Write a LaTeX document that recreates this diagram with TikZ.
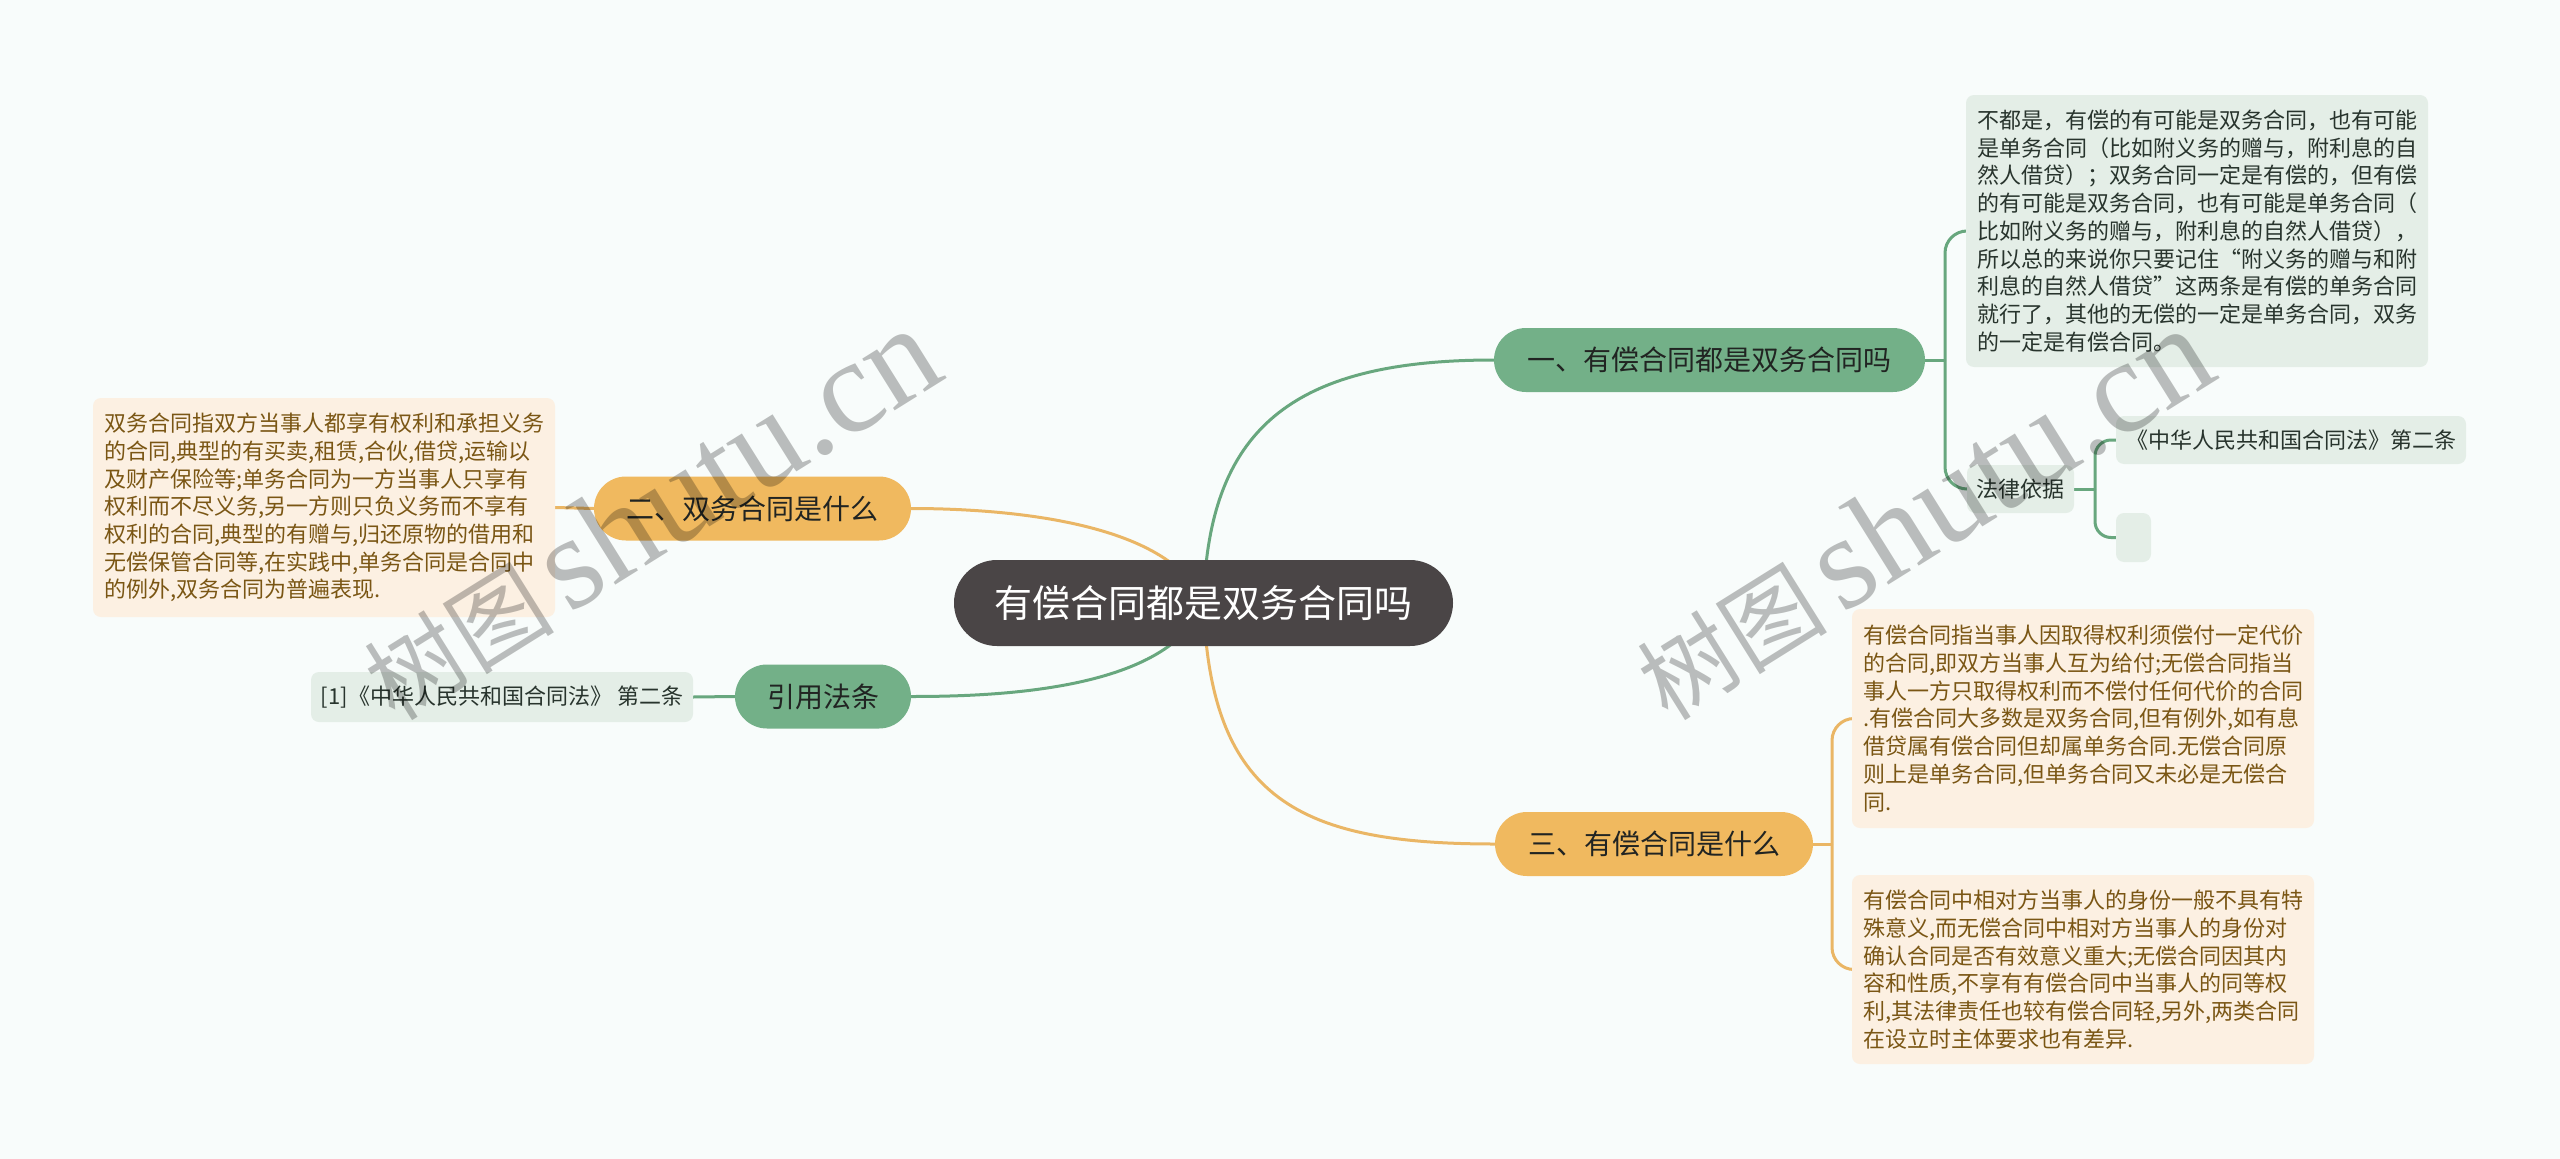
\documentclass[tikz,border=0pt]{standalone}
\usepackage{fontspec}
\setmainfont{Noto Sans CJK SC}
\newfontfamily\wmlatin{Liberation Serif}
\definecolor{bgcol}{RGB}{248,252,251}
\definecolor{ngreen}{RGB}{115,176,136}
\definecolor{cgreen}{RGB}{104,167,126}
\definecolor{norange}{RGB}{240,185,95}
\definecolor{corange}{RGB}{234,182,101}
\definecolor{lgreen}{RGB}{228,238,231}
\definecolor{lpeach}{RGB}{252,240,226}
\definecolor{ptext}{RGB}{122,86,20}
\definecolor{gtext}{RGB}{40,52,45}
\definecolor{ntext}{RGB}{33,36,34}
\definecolor{central}{RGB}{74,69,70}
\pgfdeclarelayer{back}
\pgfdeclarelayer{lines}
\pgfsetlayers{back,lines,main}
\begin{document}
\begin{tikzpicture}[x=1pt,y=-1pt,
  pill/.style={rounded corners=32pt, minimum height=64pt, inner sep=0pt, text=ntext, font=\fontsize{28}{34}\selectfont},
  gpill/.style={pill, fill=ngreen},
  opill/.style={pill, fill=norange},
  tbox/.style={rounded corners=8pt, inner xsep=11pt, inner ysep=0pt, align=left, font=\fontsize{22}{27.7}\selectfont},
  gbox/.style={tbox, fill=lgreen, text=gtext},
  pbox/.style={tbox, fill=lpeach, text=ptext},
  gline/.style={draw=cgreen, line width=3pt},
  oline/.style={draw=corange, line width=3pt},
  wmark/.style={rotate=32, text=black, text opacity=0.25, inner sep=0pt}
]
\begin{pgfonlayer}{back}
\fill[bgcol] (0,0) rectangle (2560,1159);
\end{pgfonlayer}
\useasboundingbox (0,0) rectangle (2560,1159);

% central
\node[fill=central, rounded corners=43pt, minimum width=499pt, minimum height=86pt, inner sep=0pt, text=white, font=\fontsize{38}{44}\selectfont] (c) at (1203.5,603) {有偿合同都是双务合同吗};

% main branches
\node[gpill, minimum width=431pt] (n1) at (1709.5,360) {一、有偿合同都是双务合同吗};
\node[opill, minimum width=318pt] (n3) at (1654,844) {三、有偿合同是什么};
\node[opill, minimum width=317pt] (n2) at (752.5,508.5) {二、双务合同是什么};
\node[gpill, minimum width=176pt] (n4) at (823,696.5) {引用法条};

% branch 1 children
\node[gbox, minimum width=462pt, minimum height=272pt] (b1) at (2197,231) {不都是，有偿的有可能是双务合同，也有可能\\是单务合同（比如附义务的赠与，附利息的自\\然人借贷）；双务合同一定是有偿的，但有偿\\的有可能是双务合同，也有可能是单务合同（\\比如附义务的赠与，附利息的自然人借贷），\\所以总的来说你只要记住“附义务的赠与和附\\利息的自然人借贷”这两条是有偿的单务合同\\就行了，其他的无偿的一定是单务合同，双务\\的一定是有偿合同。};
\node[gbox, minimum width=107pt, minimum height=48pt, inner xsep=0pt] (fa) at (2020.5,489) {法律依据};
\node[gbox, minimum width=350pt, minimum height=48pt, inner xsep=0pt] (law) at (2291,440) {《中华人民共和国合同法》第二条};
\node[gbox, minimum width=35pt, minimum height=49pt, inner xsep=0pt] (emp) at (2133.5,537.5) {};

% branch 3 children
\node[pbox, minimum width=460pt, minimum height=219pt] (b3a) at (2083,718.5) {有偿合同指当事人因取得权利须偿付一定代价\\的合同,即双方当事人互为给付;无偿合同指当\\事人一方只取得权利而不偿付任何代价的合同\\.有偿合同大多数是双务合同,但有例外,如有息\\借贷属有偿合同但却属单务合同.无偿合同原\\则上是单务合同,但单务合同又未必是无偿合\\同.};
\node[pbox, minimum width=460pt, minimum height=189pt] (b3b) at (2083,969.5) {有偿合同中相对方当事人的身份一般不具有特\\殊意义,而无偿合同中相对方当事人的身份对\\确认合同是否有效意义重大;无偿合同因其内\\容和性质,不享有有偿合同中当事人的同等权\\利,其法律责任也较有偿合同轻,另外,两类合同\\在设立时主体要求也有差异.};

% branch 2 child
\node[pbox, minimum width=458pt, minimum height=219pt] (b2) at (324,507.5) {双务合同指双方当事人都享有权利和承担义务\\的合同,典型的有买卖,租赁,合伙,借贷,运输以\\及财产保险等;单务合同为一方当事人只享有\\权利而不尽义务,另一方则只负义务而不享有\\权利的合同,典型的有赠与,归还原物的借用和\\无偿保管合同等,在实践中,单务合同是合同中\\的例外,双务合同为普遍表现.};

% branch 4 child
\node[gbox, minimum width=382pt, minimum height=50pt, inner xsep=0pt] (ref) at (502,697) {[1]《中华人民共和国合同法》 第二条};

\begin{pgfonlayer}{lines}
\draw[gline] (c.center) .. controls (1208,430) and (1290,360) .. (n1.west);
\draw[oline] (c.center) .. controls (1170,520) and (1000,508.5) .. (n2.east);
\draw[gline] (c.center) .. controls (1170,690) and (1000,696.5) .. (n4.east);
\draw[oline] (c.center) .. controls (1210,800) and (1300,844) .. (n3.west);
% branch 1
\coordinate (j1) at (1945,360);
\draw[gline] (n1.east) -- (j1);
\draw[gline, rounded corners=22pt] (j1) |- (b1.west);
\draw[gline, rounded corners=22pt] (j1) |- (fa.west);
\coordinate (j2) at (2095,489);
\draw[gline] (fa.east) -- (j2);
\draw[gline, rounded corners=16pt] (j2) |- (law.west);
\draw[gline, rounded corners=16pt] (j2) |- (emp.west);
% branch 3
\coordinate (j3) at (1832,844);
\draw[oline] (n3.east) -- (j3);
\draw[oline, rounded corners=22pt] (j3) |- (b3a.west);
\draw[oline, rounded corners=22pt] (j3) |- (b3b.west);
% branch 2 and 4
\draw[oline] (n2.west) -- (b2.east);
\draw[gline] (n4.west) -- (ref.east);
\end{pgfonlayer}

% watermarks
\node[wmark] (w1) at (650,514) {\fontsize{95}{95}\selectfont 树图\hspace{15pt}{\wmlatin\fontsize{133}{133}\selectfont shutu.cn}};
\node[wmark] (w2) at (1923,514) {\fontsize{95}{95}\selectfont 树图\hspace{15pt}{\wmlatin\fontsize{133}{133}\selectfont shutu.cn}};
\end{tikzpicture}
\end{document}
